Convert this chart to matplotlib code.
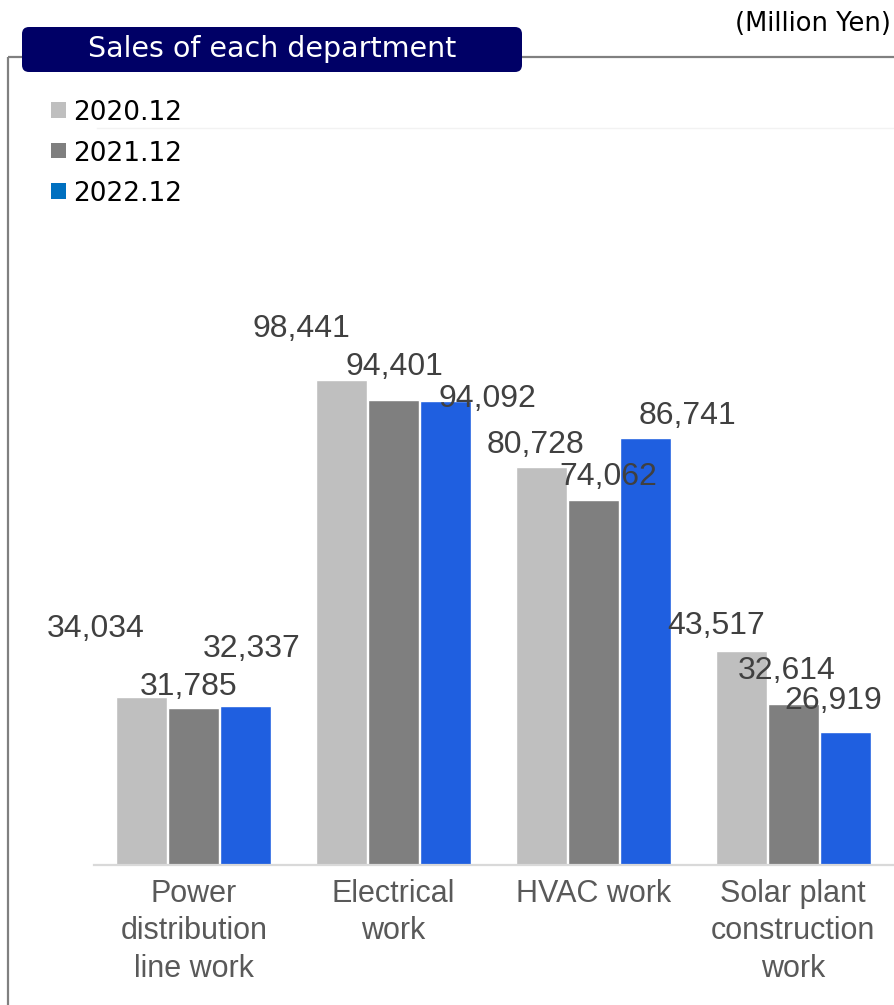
import matplotlib
matplotlib.use("Agg")
import matplotlib.pyplot as plt
import numpy as np
from matplotlib.patches import FancyBboxPatch, Rectangle
from matplotlib.lines import Line2D

# ---- data -------------------------------------------------------------
categories = [
    "Power\ndistribution\nline work",
    "Electrical\nwork",
    "HVAC work",
    "Solar plant\nconstruction\nwork",
]
periods = ["2020.12", "2021.12", "2022.12"]
sales_2020 = [34034, 98441, 80728, 43517]
sales_2021 = [31785, 94401, 74062, 32614]
sales_2022 = [32337, 94092, 86741, 26919]
series = [sales_2020, sales_2021, sales_2022]

# ---- styling ----------------------------------------------------------
bar_colors = ["#BFBFBF", "#7F7F7F", "#1F5FE0"]
legend_colors = ["#BFBFBF", "#7F7F7F", "#0070C0"]
# hand-placed value label offsets (pixels, from bar top to text baseline)
label_offsets = [
    [(-46, 60), (-40, 43), (-6, 14), (-25, 17)],
    [(-5, 13), (1, 25), (15, 15), (-6, 25)],
    [(6, 49), (42, -6), (42, 14), (-12, 23)],
]

W_PX, H_PX, DPI = 895, 1005, 100
fig = plt.figure(figsize=(W_PX / DPI, H_PX / DPI), dpi=DPI)
fig.patch.set_facecolor("white")
inch = fig.dpi_scale_trans


def pt(x, y):
    """pixel position (top-left origin) -> inches for dpi_scale_trans"""
    return x / DPI, (H_PX - y) / DPI


# ---- frame and header -------------------------------------------------
frame_kw = dict(color="#808080", lw=1.6, transform=inch, solid_capstyle="butt")
x0, y0 = pt(8, 57)
fig.add_artist(Line2D([pt(8, 0)[0], pt(895, 0)[0]], [y0, y0], **frame_kw))
fig.add_artist(Line2D([x0, x0], [y0, pt(0, 1005)[1]], **frame_kw))

bx, by = pt(22, 72)
title_box = FancyBboxPatch((bx, by), 500 / DPI, 45 / DPI,
                           boxstyle="round,pad=0,rounding_size=0.07",
                           fc="#000066", ec="none", transform=inch, zorder=3)
fig.add_artist(title_box)
tx, ty = pt(272, 57)
fig.text(tx, ty, "Sales of each department", transform=inch, ha="center",
         va="baseline", color="white", fontsize=20.5, family="DejaVu Sans",
         zorder=4)

mx, my = pt(891, 31)
fig.text(mx, my, "(Million Yen)", transform=inch, ha="right", va="baseline",
         color="black", fontsize=18.5, family="DejaVu Sans")

# faint top border of the plotting area
fx0, fy = pt(97, 128)
fig.add_artist(Line2D([fx0, pt(895, 0)[0]], [fy, fy], color="#F2F2F2", lw=1,
                      transform=inch))

# ---- legend ------------------------------------------------------------
for i, (name, col) in enumerate(zip(periods, legend_colors)):
    cy = 110 + i * 40.5
    sx, sy = pt(51, cy + 7.5)
    fig.add_artist(Rectangle((sx, sy), 15 / DPI, 15 / DPI, fc=col, ec="none",
                             transform=inch))
    lx, ly = pt(73, cy + 10)
    fig.text(lx, ly, name, transform=inch, ha="left", va="baseline",
             fontsize=19, color="black", family="DejaVu Sans")

# ---- bars ---------------------------------------------------------------
ax = fig.add_axes([94 / W_PX, 140 / H_PX, 799 / W_PX, 739 / H_PX])
ax.set_xlim(-0.5, 3.5)
ax.set_ylim(0, 150000)
x = np.arange(len(categories))
step = 0.26
width = 0.255
for s, (vals, col) in enumerate(zip(series, bar_colors)):
    xs = x + (s - 1) * step
    ax.bar(xs, vals, width=width, color=col, edgecolor="white", linewidth=1,
           zorder=2)
    for xi, v, (dx, dy) in zip(xs, vals, label_offsets[s]):
        ax.annotate(f"{v:,}", xy=(xi, v), xytext=(dx, dy),
                    textcoords="offset pixels", ha="center", va="baseline",
                    fontsize=23, color="#404040", family="Liberation Sans",
                    zorder=5, annotation_clip=False)

for side in ("left", "right", "top"):
    ax.spines[side].set_visible(False)
ax.spines["bottom"].set_color("#D9D9D9")
ax.spines["bottom"].set_linewidth(1.6)
ax.set_yticks([])
ax.set_xticks(x)
ax.set_xticklabels(categories, fontsize=22, color="#595959",
                   family="Liberation Sans", linespacing=1.32)
ax.tick_params(axis="x", length=0, pad=10)
ax.set_facecolor("none")

fig.savefig("out.png", dpi=DPI, facecolor="white")
